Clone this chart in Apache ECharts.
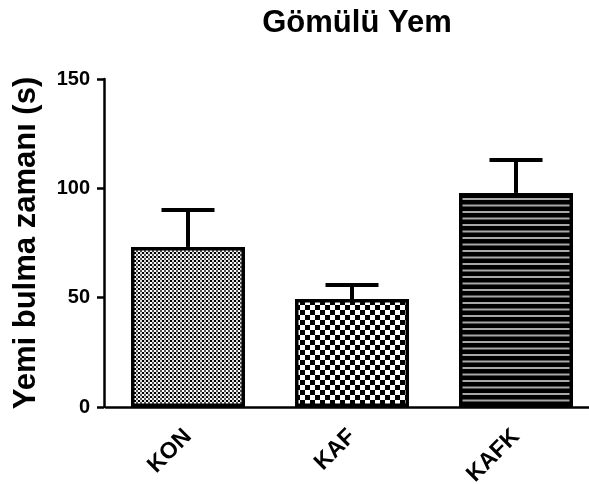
<!DOCTYPE html>
<html>
<head>
<meta charset="utf-8">
<script src="https://cdn.jsdelivr.net/npm/echarts@6/dist/echarts.min.js"></script>
<style>
  html, body { margin: 0; padding: 0; background: #fff; }
  #chart { width: 589px; height: 484px; }
</style>
</head>
<body>
<div id="chart"></div>
<script>
// Groups, mean time to find buried food (s) and SEM
const groups = ['KON', 'KAF', 'KAFK'];
const means = [73.2, 49.4, 97.9];
const sems = [16.9, 6.4, 15.1];
const yTicks = [0, 50, 100, 150];

const FONT = '"Liberation Sans", Arial, sans-serif';

// Fill patterns built on small canvases
function makeTile(w, h, draw) {
  const c = document.createElement('canvas');
  c.width = w; c.height = h;
  const ctx = c.getContext('2d');
  draw(ctx, w, h);
  return { image: c, repeat: 'repeat' };
}
const fineDots = makeTile(4, 4, (ctx) => {
  ctx.fillStyle = '#d8d8d8'; ctx.fillRect(0, 0, 2, 2);
  ctx.fillStyle = '#ffffff'; ctx.fillRect(2, 2, 2, 2);
  ctx.fillStyle = '#000000'; ctx.fillRect(2, 0, 2, 2);
  ctx.fillStyle = '#505050'; ctx.fillRect(0, 2, 2, 2);
});
const checker = makeTile(10, 10, (ctx) => {
  ctx.fillStyle = '#ffffff'; ctx.fillRect(0, 0, 10, 10);
  ctx.fillStyle = '#000000';
  ctx.fillRect(0, 0, 5, 5); ctx.fillRect(5, 5, 5, 5);
});
const stripes = makeTile(4, 13, (ctx) => {
  ctx.fillStyle = '#000000'; ctx.fillRect(0, 0, 4, 13);
  ctx.fillStyle = '#a8a8a8';
  ctx.fillRect(0, 3, 4, 2); ctx.fillRect(0, 9.5, 4, 2);
});
const fills = [fineDots, checker, stripes];

const chart = echarts.init(document.getElementById('chart'), null, { renderer: 'canvas' });

chart.setOption({
  animation: false,
  backgroundColor: '#ffffff',
  title: {
    text: 'Gömülü Yem',
    left: 352, top: 3, textAlign: 'center',
    textStyle: { fontFamily: FONT, fontWeight: 'bold', fontSize: 31, color: '#000' }
  },
  grid: { left: 106, top: 79, width: 492, height: 328, outerBoundsMode: 'none', containLabel: false },
  xAxis: {
    type: 'category',
    data: groups,
    axisLine: { lineStyle: { color: '#000', width: 2.5 } },
    axisTick: { alignWithLabel: true, length: 9, lineStyle: { color: '#000', width: 2.5 } },
    axisLabel: {
      rotate: 45, margin: 26, color: '#000',
      fontFamily: FONT, fontWeight: 'bold', fontSize: 23
    },
    splitLine: { show: false }
  },
  yAxis: {
    type: 'value',
    offset: 2,
    min: yTicks[0], max: yTicks[yTicks.length - 1], interval: 50,
    name: 'Yemi bulma zamanı (s)',
    nameLocation: 'middle',
    nameGap: 62,
    nameRotate: 90,
    nameTextStyle: { fontFamily: FONT, fontWeight: 'bold', fontSize: 31, color: '#000' },
    axisLine: { show: true, lineStyle: { color: '#000', width: 2.5 } },
    axisTick: { show: true, length: 7, lineStyle: { color: '#000', width: 2.5 } },
    axisLabel: { margin: 14, color: '#000', fontFamily: FONT, fontWeight: 'bold', fontSize: 20 },
    splitLine: { show: false }
  },
  series: [
    {
      type: 'bar',
      barWidth: 114,
      data: means.map((v, i) => ({
        value: v,
        itemStyle: { color: fills[i], borderColor: '#000', borderWidth: 3.5 }
      })),
      z: 2
    },
    {
      type: 'custom',
      data: means.map((v, i) => [i, v, v + sems[i]]),
      renderItem: function (params, api) {
        const top = api.coord([api.value(0), api.value(2)]);
        const base = api.coord([api.value(0), api.value(1)]);
        const half = 26.5;
        const style = { stroke: '#000', lineWidth: 4 };
        return {
          type: 'group',
          children: [
            { type: 'line', shape: { x1: base[0], y1: base[1], x2: top[0], y2: top[1] }, style: style },
            { type: 'line', shape: { x1: top[0] - half, y1: top[1], x2: top[0] + half, y2: top[1] }, style: style }
          ]
        };
      },
      z: 3
    }
  ]
});
</script>
</body>
</html>
